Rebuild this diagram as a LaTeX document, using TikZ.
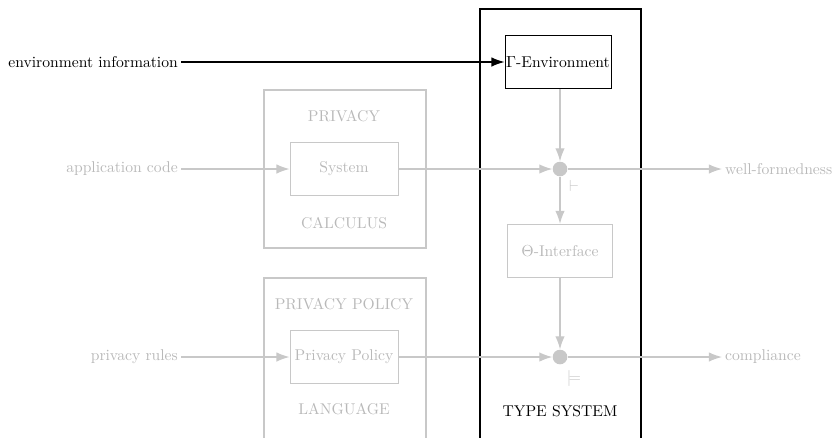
\documentclass[tikz,border=0pt]{standalone}
\usetikzlibrary{arrows.meta}
\definecolor{faint}{RGB}{200,200,200}
\definecolor{fainttext}{RGB}{185,185,185}
\begin{document}
\begin{tikzpicture}[x=0.685pt,y=-0.685pt,
  every node/.style={font=\fontsize{10.7pt}{13pt}\selectfont},
  tip/.style={-{Latex[length=9pt,width=6.5pt]}},
  flow/.style={draw=faint,line width=0.9pt,tip},
  inbox/.style={draw=faint,line width=0.6pt,minimum width=74pt,minimum height=36.5pt,text=fainttext,inner sep=1pt},
  frame/.style={draw=faint,line width=1.3pt,minimum width=111pt,text=fainttext},
  lbl/.style={text=fainttext,inner sep=1pt},
  dot/.style={circle,fill=faint,minimum size=10pt,inner sep=0pt}]
\useasboundingbox (0,0) rectangle (834,437);
% Type system frame
\node[draw=black,line width=1.3pt,minimum width=110.3pt,minimum height=310pt,anchor=north west,inner sep=0pt] (ts) at (479,8) {};
\node (tslbl) at (560,411) {TYPE SYSTEM};
% privacy calculus
\node[frame,minimum height=108.2pt,anchor=north west,inner sep=0pt] (pc) at (263,89) {};
\node[lbl] (pclbl1) at (344,116) {PRIVACY};
\node[lbl] (pclbl2) at (344,223) {CALCULUS};
% privacy policy language
\node[frame,minimum height=130pt,anchor=north west,inner sep=0pt] (ppl) at (263,277) {};
\node[lbl] (ppllbl1) at (344,304) {PRIVACY POLICY};
\node[lbl] (ppllbl2) at (344,409) {LANGUAGE};
% inner boxes
\node[draw=black,line width=0.6pt,minimum width=72.6pt,minimum height=36.3pt,inner sep=0.5pt] (env) at (558,62) {$\Gamma$-Environment};
\node[inbox] (sys) at (344,169) {System};
\node[inbox] (pp) at (344,357) {Privacy Policy};
\node[inbox,minimum width=72pt] (theta) at (560,251) {$\Theta$-Interface};
% dots
\node[dot] (d1) at (560,169) {};
\node[dot] (d2) at (560,357) {};
% inputs
\node[anchor=east,inner sep=2pt] (envinfo) at (181,62) {environment information};
\node[lbl,anchor=east,inner sep=2pt] (app) at (181,169) {application code};
\node[lbl,anchor=east,inner sep=2pt] (rules) at (181,357) {privacy rules};
% outputs
\coordinate (o1) at (722,169);
\coordinate (o2) at (722,357);
\node[lbl,anchor=west,inner sep=2pt] (wf) at (722,169) {well-formedness};
\node[lbl,anchor=west,inner sep=2pt] (comp) at (722,357) {compliance};
% judgement labels
\node[text=faint,inner sep=0pt] (vd) at (574,186) {$\vdash$};
\node[text=faint,inner sep=0pt] (md) at (574,378) {$\models$};
% connectors
\draw[black,line width=0.9pt,tip] (envinfo) -- (env);
\draw[flow] (app) -- (sys);
\draw[flow] (rules) -- (pp);
\draw[flow] (sys) -- (d1);
\draw[flow] (pp) -- (d2);
\draw[flow] (d1) -- (o1);
\draw[flow] (d2) -- (o2);
\draw[flow] (env.south -| d1) -- (d1);
\draw[flow] (d1) -- (theta);
\draw[flow] (theta) -- (d2);
\end{tikzpicture}
\end{document}
